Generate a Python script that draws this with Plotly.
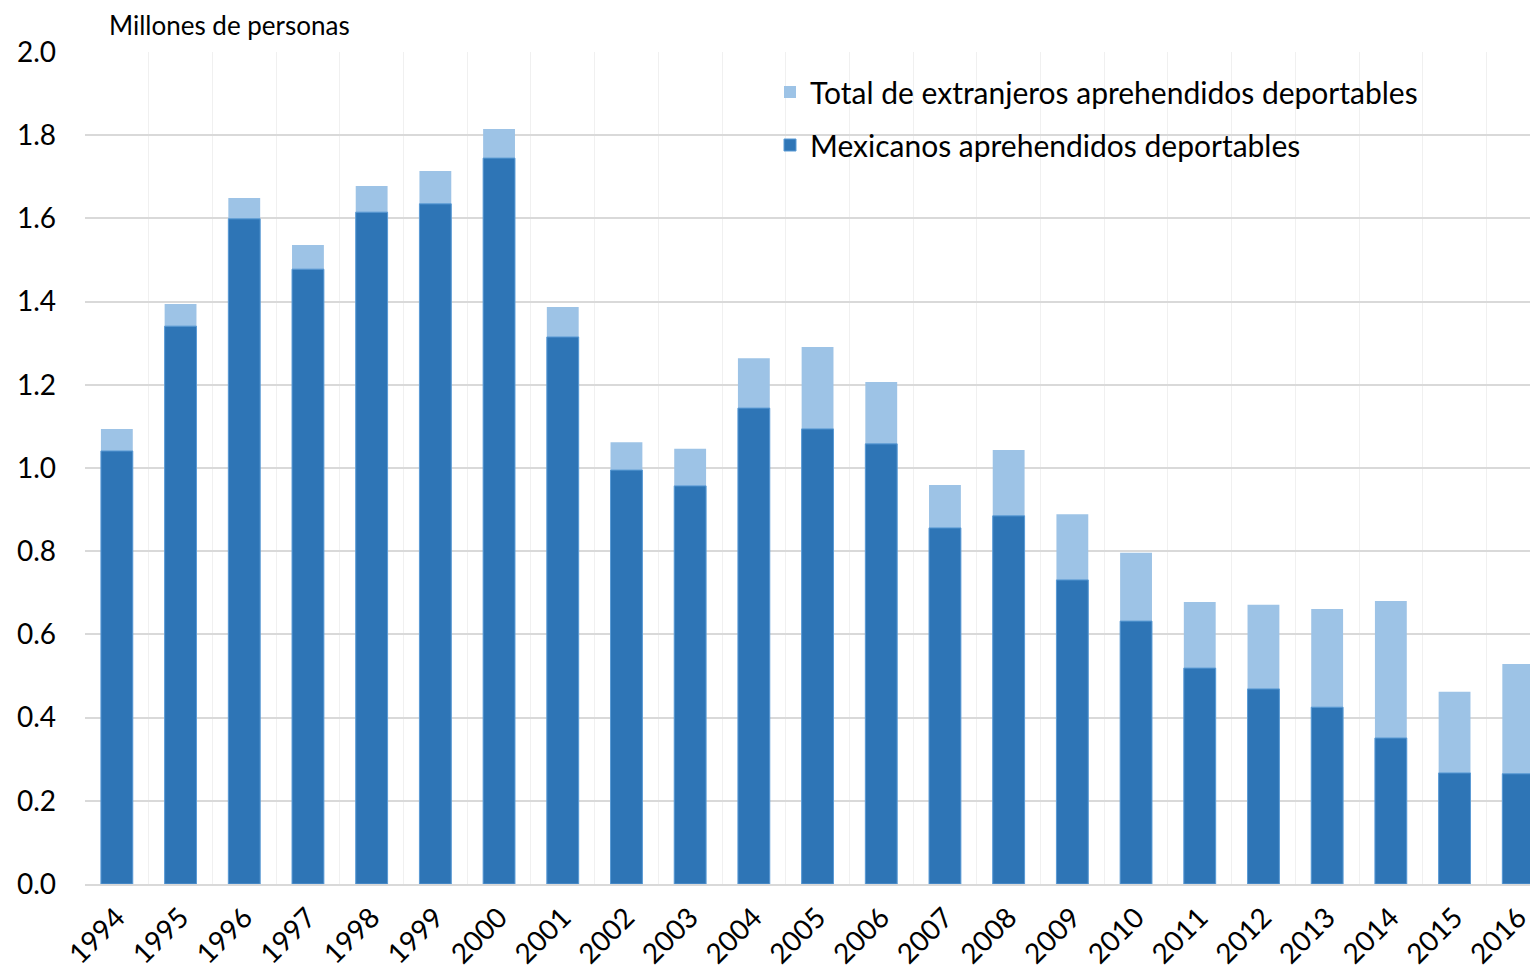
import plotly.graph_objects as go

years = [str(y) for y in range(1994, 2017)]
total_extranjeros = [1.094, 1.394, 1.649, 1.536, 1.678, 1.714, 1.815, 1.387, 1.062, 1.046,
                     1.264, 1.291, 1.207, 0.959, 1.043, 0.889, 0.796, 0.678, 0.671, 0.661,
                     0.680, 0.462, 0.529]
mexicanos = [1.041, 1.341, 1.599, 1.478, 1.615, 1.635, 1.745, 1.315, 0.995, 0.957,
             1.144, 1.094, 1.058, 0.856, 0.885, 0.731, 0.632, 0.519, 0.469, 0.425,
             0.351, 0.267, 0.265]
y_ticks = [0.0, 0.2, 0.4, 0.6, 0.8, 1.0, 1.2, 1.4, 1.6, 1.8, 2.0]

FONT = "Lato"
PW = 1453.0   # plot width in px
PH = 832.0    # plot height in px

fig = go.Figure()
fig.add_trace(go.Bar(x=years, y=total_extranjeros, name="Total de extranjeros aprehendidos deportables",
                     marker=dict(color="#9DC3E6", line=dict(width=0)), width=0.5,
                     legendgroup="a"))
fig.add_trace(go.Bar(x=years, y=mexicanos, name="Mexicanos aprehendidos deportables",
                     marker=dict(color="#2E75B6", line=dict(width=1, color="#5B9BD5")), width=0.5,
                     legendgroup="b"))

fig.update_layout(
    width=1538, height=974,
    margin=dict(l=77, r=8, t=44, b=98),
    barmode="overlay",
    plot_bgcolor="white", paper_bgcolor="white",
    font=dict(family=FONT, color="black"),
    showlegend=True,
    legend=dict(x=(770 - 85) / PW, y=(884 - 66) / PH, xanchor="left", yanchor="top",
                bgcolor="rgba(0,0,0,0)", borderwidth=0, font=dict(size=30, family=FONT),
                traceorder="grouped", tracegroupgap=11),
    xaxis=dict(type="category", range=[-0.5, 22.31], tickson="boundaries",
               showgrid=True, gridcolor="#F0F0F0", gridwidth=1,
               tickangle=-45, tickfont=dict(size=28), ticks="", showline=True,
               linecolor="#D9D9D9", linewidth=2, ticklabelstandoff=4, automargin=False),
    yaxis=dict(range=[0, 2.0], tickvals=y_ticks, tickformat=".1f",
               showgrid=True, gridcolor="#D9D9D9", gridwidth=2,
               zeroline=False, tickfont=dict(size=28), ticks="", ticklabelstandoff=28,
               automargin=False),
    shapes=[dict(type="rect", xref="paper", yref="paper",
                 x0=(730 - 85) / PW, x1=(1470 - 85) / PW,
                 y0=(884 - 173) / PH, y1=(884 - 67) / PH,
                 fillcolor="white", line=dict(width=0), layer="between")],
    annotations=[dict(text="Millones de personas", xref="paper", yref="paper",
                      x=(108 - 85) / PW, y=(884 - 25) / PH, xanchor="left", yanchor="middle",
                      showarrow=False, borderpad=0, font=dict(size=26, family=FONT))],
)
fig.write_html("out.html")
